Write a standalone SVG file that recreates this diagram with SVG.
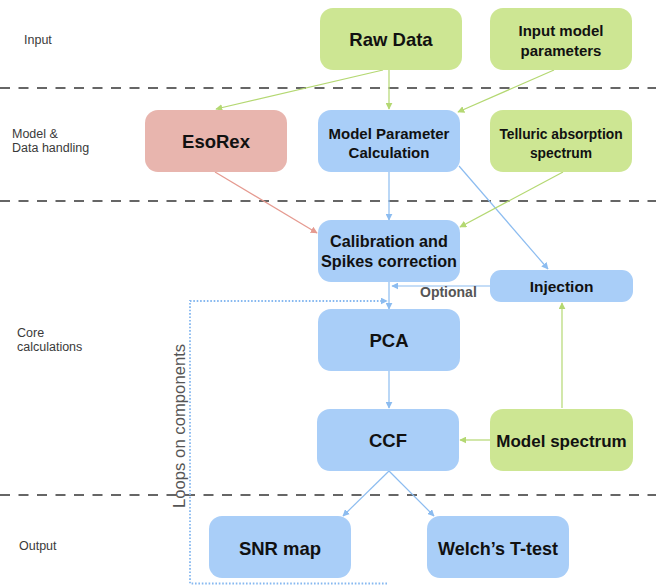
<svg xmlns="http://www.w3.org/2000/svg" width="656" height="586" viewBox="0 0 656 586">
<defs>
<style>
.g{fill:#cde693}
.b{fill:#a9cef8}
.r{fill:#e8b5ae}
.t{font-family:"Liberation Sans",Arial,sans-serif;font-weight:bold;fill:#111;text-anchor:middle}
.lab{font-family:"Liberation Sans",Arial,sans-serif;font-size:12.5px;fill:#3a3a3a}
.sep{stroke:#666;stroke-width:2;stroke-dasharray:10 8.5;fill:none}
.cg{stroke:#b4d872;stroke-width:1.2;fill:none}
.cb{stroke:#8cbcf0;stroke-width:1.2;fill:none}
.cr{stroke:#e59a90;stroke-width:1.2;fill:none}
</style>
<marker id="ag" viewBox="0 0 10 10" refX="9" refY="5" markerWidth="7" markerHeight="7" markerUnits="userSpaceOnUse" orient="auto"><path d="M0,0 L10,5 L0,10 z" fill="#b4d872"/></marker>
<marker id="ab" viewBox="0 0 10 10" refX="9" refY="5" markerWidth="7" markerHeight="7" markerUnits="userSpaceOnUse" orient="auto"><path d="M0,0 L10,5 L0,10 z" fill="#8cbcf0"/></marker>
<marker id="ar" viewBox="0 0 10 10" refX="9" refY="5" markerWidth="7" markerHeight="7" markerUnits="userSpaceOnUse" orient="auto"><path d="M0,0 L10,5 L0,10 z" fill="#e59a90"/></marker>
</defs>
<rect width="656" height="586" fill="#fff"/>

<g id="separators">
<line class="sep" x1="0" y1="88" x2="656" y2="88"/>
<line class="sep" x1="0" y1="201" x2="656" y2="201"/>
<line class="sep" x1="0" y1="495" x2="656" y2="495"/>
</g>

<g id="lane-labels">
<text class="lab" x="24" y="44">Input</text>
<text class="lab" x="12" y="138">Model &amp;</text>
<text class="lab" x="12" y="152">Data handling</text>
<text class="lab" x="17" y="337">Core</text>
<text class="lab" x="17" y="351">calculations</text>
<text class="lab" x="19" y="550">Output</text>
</g>

<g id="connectors">
<line class="cg" x1="383" y1="70" x2="216" y2="109" marker-end="url(#ag)"/>
<line class="cg" x1="389" y1="70" x2="389" y2="109" marker-end="url(#ag)"/>
<line class="cg" x1="554" y1="70" x2="458" y2="112" marker-end="url(#ag)"/>
<line class="cr" x1="215" y1="172" x2="317" y2="233" marker-end="url(#ar)"/>
<line class="cb" x1="389" y1="172" x2="389" y2="220" marker-end="url(#ab)"/>
<line class="cb" x1="459" y1="166" x2="548" y2="269" marker-end="url(#ab)"/>
<line class="cg" x1="563" y1="172" x2="460" y2="227" marker-end="url(#ag)"/>
<line class="cb" x1="490" y1="286" x2="392" y2="286" marker-end="url(#ab)"/>
<line class="cb" x1="389" y1="282" x2="389" y2="309" marker-end="url(#ab)"/>
<line class="cb" x1="389" y1="371" x2="389" y2="408" marker-end="url(#ab)"/>
<line class="cg" x1="490" y1="440" x2="460" y2="440" marker-end="url(#ag)"/>
<line class="cg" x1="562" y1="408" x2="562" y2="303" marker-end="url(#ag)"/>
<line class="cb" x1="389" y1="471" x2="343" y2="516" marker-end="url(#ab)"/>
<line class="cb" x1="389" y1="471" x2="434" y2="516" marker-end="url(#ab)"/>
<polyline points="387,583.5 190,583.5 190,301 387,301" fill="none" stroke="#86b8f0" stroke-width="1.8" stroke-dasharray="1.6 1.8" marker-end="url(#ab)"/>
<text x="420" y="297" font-family="Liberation Sans, Arial, sans-serif" font-weight="bold" font-size="14" fill="#555">Optional</text>
<text transform="translate(184.5,508) rotate(-90)" font-family="Liberation Sans, Arial, sans-serif" font-size="16.7" fill="#555">Loops on components</text>
</g>

<g id="raw-data"><rect class="g" x="320" y="8" width="142" height="62" rx="13"/><text class="t" x="391" y="46" font-size="18.5">Raw Data</text></g>
<g id="input-model-parameters"><rect class="g" x="490" y="8" width="142" height="62" rx="13"/><text class="t" x="561" y="36" font-size="15">Input model</text><text class="t" x="561" y="56" font-size="15">parameters</text></g>
<g id="esorex"><rect class="r" x="145" y="110" width="142" height="62" rx="13"/><text class="t" x="216" y="148" font-size="18.5">EsoRex</text></g>
<g id="model-parameter-calculation"><rect class="b" x="318" y="110" width="142" height="62" rx="13"/><text class="t" x="389" y="139" font-size="15">Model Parameter</text><text class="t" x="389" y="158" font-size="15">Calculation</text></g>
<g id="telluric"><rect class="g" x="490" y="110" width="142" height="62" rx="13"/><text class="t" x="561" y="139" font-size="13.8">Telluric absorption</text><text class="t" x="561" y="158" font-size="13.8">spectrum</text></g>
<g id="calibration"><rect class="b" x="318" y="220" width="142" height="62" rx="13"/><text class="t" x="389" y="246.5" font-size="16.2">Calibration and</text><text class="t" x="389" y="267" font-size="16.2">Spikes correction</text></g>
<g id="injection"><rect class="b" x="490" y="270" width="143" height="32" rx="11"/><text class="t" x="561.5" y="291.5" font-size="15.5">Injection</text></g>
<g id="pca"><rect class="b" x="318" y="309" width="142" height="62" rx="13"/><text class="t" x="389" y="346.5" font-size="18.5">PCA</text></g>
<g id="ccf"><rect class="b" x="317" y="409" width="142" height="62" rx="13"/><text class="t" x="388" y="446.5" font-size="18.5">CCF</text></g>
<g id="model-spectrum"><rect class="g" x="490" y="409" width="143" height="62" rx="13"/><text class="t" x="561.5" y="446.5" font-size="17">Model spectrum</text></g>
<g id="snr-map"><rect class="b" x="209" y="516" width="142" height="62" rx="13"/><text class="t" x="280" y="554.5" font-size="18.5">SNR map</text></g>
<g id="welch"><rect class="b" x="427" y="516" width="142" height="62" rx="13"/><text class="t" x="498" y="554.5" font-size="18">Welch’s T-test</text></g>
</svg>
